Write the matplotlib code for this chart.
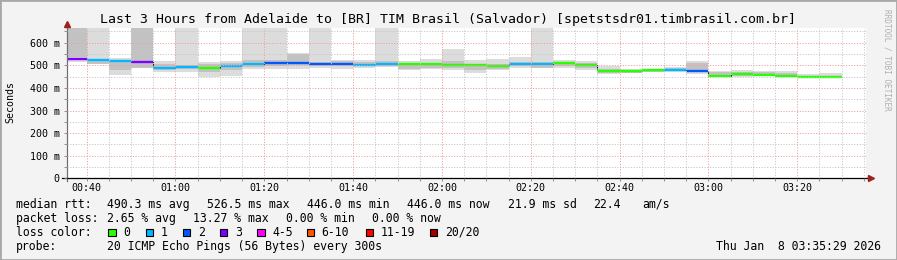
import matplotlib
matplotlib.use('Agg')
import matplotlib.pyplot as plt
import numpy as np
from matplotlib.patches import Rectangle

plt.rcParams['font.family'] = 'DejaVu Sans Mono'

W, H = 897, 260

# time axis in minutes after midnight (3 hours ending 03:35:29), one step every 300 s
t_start, t_end = 35 + 29 / 60, 215 + 29 / 60
edges = np.concatenate([[t_start], np.arange(40, 211, 5)])

# median rtt per step (ms)
median = [528, 522, 519, 514, 489, 493, 488, 499, 507, 512, 512, 506, 504, 503, 507, 507, 507, 503,
          500, 497, 506, 506, 510, 500, 476, 473, 480, 480, 475, 454, 461, 457, 454, 448, 447]
# lost pings out of 20 per step
loss = [3, 1, 1, 3, 1, 1, 0, 1, 1, 2, 2, 2, 2, 1, 1, 0, 0, 0,
        0, 0, 1, 1, 0, 0, 0, 0, 0, 1, 2, 0, 0, 0, 0, 0, 0]
# smoke: full ping spread and the denser inner spread (ms)
smoke_lo = [515, 504, 457, 489, 469, 472, 450, 453, 483, 482, 482, 489, 482, 489, 494, 479, 482, 479,
            467, 479, 487, 487, 487, 479, 461, 465, 469, 472, 461, 450, 450, 453, 450, 447, 447]
smoke_hi = [700, 700, 531, 700, 519, 700, 513, 519, 700, 700, 555, 700, 523, 523, 700, 519, 529, 572,
            523, 529, 538, 700, 523, 519, 498, 484, 485, 494, 519, 476, 479, 476, 476, 461, 467]
inner_lo = [535, 508, 478, 490, 478, 485, 470, 478, 492, 495, 500, 495, 495, 495, 495, 485, 490, 490,
            480, 485, 495, 490, 495, 490, 468, 468, 472, 475, 470, 452, 455, 456, 452, 450, 450]
inner_hi = [700, 530, 515, 700, 505, 500, 505, 510, 525, 525, 550, 515, 520, 515, 520, 510, 510, 520,
            505, 505, 515, 515, 515, 510, 485, 480, 482, 488, 510, 470, 470, 470, 468, 455, 455]

loss_labels = ['0', '1', '2', '3', '4-5', '6-10', '11-19', '20/20']
loss_upper = [0, 1, 2, 3, 5, 10, 19, 20]
loss_colors = ['#26ff00', '#00b8ff', '#0059ff', '#7e00ff', '#ff00ff', '#ff5500', '#ff0000', '#a10000']

x_tick_labels = ['00:40', '01:00', '01:20', '01:40', '02:00', '02:20', '02:40', '03:00', '03:20']
y_ticks = [0, 100, 200, 300, 400, 500, 600]

title = 'Last 3 Hours from Adelaide to [BR] TIM Brasil (Salvador) [spetstsdr01.timbrasil.com.br]'
legend_rows = [
    [(16, 'median rtt:'), (107.3, '490.3 ms avg'), (207.3, '526.5 ms max'), (306.7, '446.0 ms min'),
     (406.7, '446.0 ms now'), (507.7, '21.9 ms sd'), (593.3, '22.4'), (642, 'am/s')],
    [(16, 'packet loss:'), (107.3, '2.65 % avg'), (192.7, '13.27 % max'), (286, '0.00 % min'),
     (372.3, '0.00 % now')],
    [(16, 'loss color:')],
    [(16, 'probe:'), (107.3, '20 ICMP Echo Pings (56 Bytes) every 300s')],
]
row_y = [204.3, 218.3, 232.3, 246.5]
box_x = [108.3, 145.7, 182.7, 220, 257.3, 306.7, 365.7, 430]
stamp = 'Thu Jan  8 03:35:29 2026'


def fx(x):
    return x / W


def fy(y):
    return 1 - y / H


fig = plt.figure(figsize=(W / 100, H / 100), dpi=100, facecolor='#f3f3f3')
ax = fig.add_axes([fx(66.6), fy(178.3), 799.4 / W, 150 / H])
ax.set_facecolor('white')

# smoke
ax.stairs(smoke_hi, edges, baseline=smoke_lo, fill=True, color='#dcdcdc', lw=0)
ax.stairs(inner_hi, edges, baseline=inner_lo, fill=True, color='#c2c2c2', lw=0)

# median line coloured by loss
ax.stairs(median, edges, color='black', lw=0.7, baseline=None)
seg_colors = [loss_colors[i] for i in np.searchsorted(loss_upper, loss)]
ax.hlines(median, edges[:-1], edges[1:], colors=seg_colors, lw=1.7)

ax.set_xlim(t_start, t_end)
ax.set_ylim(0, 664)

x_ticks = [int(s[:2]) * 60 + int(s[3:]) for s in x_tick_labels]
ax.set_xticks(x_ticks)
ax.set_xticklabels(x_tick_labels)
ax.set_xticks(np.arange(40, t_end, 5), minor=True)
ax.set_yticks(y_ticks)
ax.set_yticklabels(['0' if v == 0 else f'{v} m' for v in y_ticks])
ax.set_yticks(np.arange(50, 664, 50), minor=True)

ax.grid(which='minor', color='#c8c8c8', linestyle=(0, (1.2, 1.6)), lw=0.7)
ax.grid(which='major', color='#f0a0a0', linestyle=(0, (1.2, 1.6)), lw=0.7)
ax.set_axisbelow(False)

ax.tick_params(which='both', length=2, width=0.6, color='#808080', labelsize=7.2, pad=3)
ax.tick_params(axis='x', pad=1.5)
for s in ax.spines.values():
    s.set_visible(False)

# axes with arrow heads
ax.plot([0, 0], [-0.02, 1.025], transform=ax.transAxes, color='#707070', lw=0.9, clip_on=False)
ax.plot([-0.006, 1.004], [0, 0], transform=ax.transAxes, color='black', lw=0.9, clip_on=False)
ax.plot([0], [1.03], marker='^', ms=4, color='#a02020', transform=ax.transAxes, clip_on=False)
ax.plot([1.006], [0], marker='>', ms=4, color='#a02020', transform=ax.transAxes, clip_on=False)

fig.text(fx(448), fy(19), title, ha='center', va='center', fontsize=9.5)
fig.text(fx(10), fy(102), 'Seconds', rotation=90, ha='center', va='center', fontsize=7.2)
fig.text(fx(887), fy(60), 'RRDTOOL / TOBI OETIKER', rotation=270, ha='center', va='center',
         fontsize=5.6, color='#b0b0b0')

for row, y in zip(legend_rows, row_y):
    for x, txt in row:
        fig.text(fx(x), fy(y), txt, ha='left', va='center', fontsize=8.3)
fig.text(fx(880.7), fy(row_y[3]), stamp, ha='right', va='center', fontsize=8.3)

for x, lab, c in zip(box_x, loss_labels, loss_colors):
    fig.patches.append(Rectangle((fx(x), fy(row_y[2] + 3.7)), 7.3 / W, 7.3 / H,
                                 transform=fig.transFigure, facecolor=c, edgecolor='black', lw=0.8))
    fig.text(fx(x + 15), fy(row_y[2]), lab, ha='left', va='center', fontsize=8.3)

# image frame
fig.patches.append(Rectangle((0, 0), 1, 1, transform=fig.transFigure, fill=False,
                             edgecolor='#a8a8a8', lw=2))

fig.savefig('out.png', dpi=100, facecolor=fig.get_facecolor())
